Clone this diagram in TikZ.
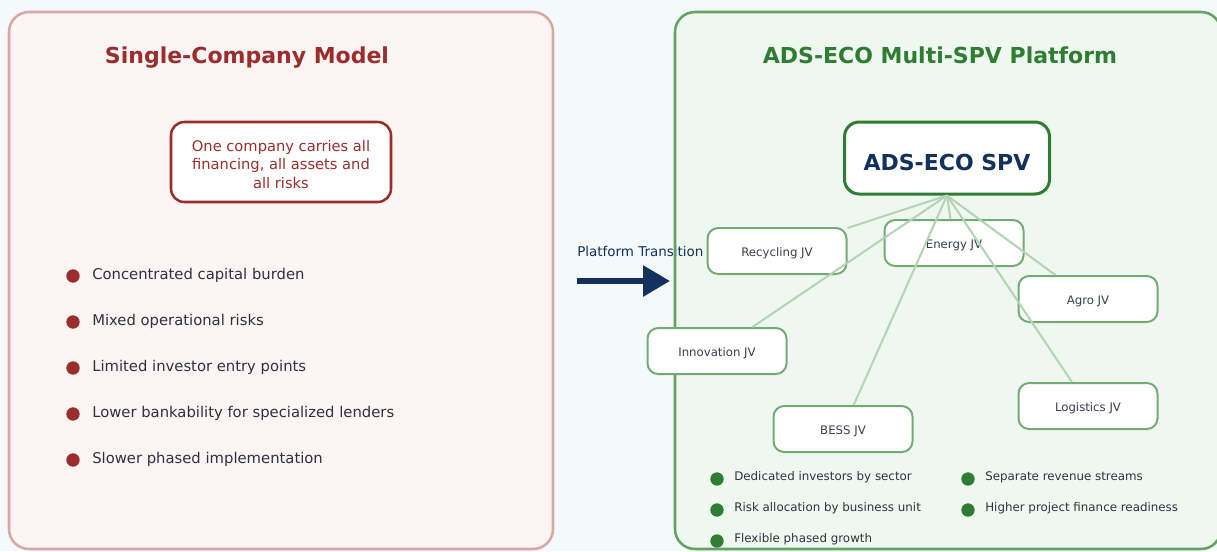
\documentclass[tikz,border=0pt]{standalone}
\usepackage{fontspec}
\setmainfont{DejaVu Sans}
\usetikzlibrary{arrows.meta}
\definecolor{bgc}{HTML}{F4F9FA}
\definecolor{lfill}{HTML}{FDF4F4}
\definecolor{lborder}{HTML}{DBA6A6}
\definecolor{redc}{HTML}{9B2D2D}
\definecolor{rfill}{HTML}{EFF8F0}
\definecolor{rborder}{HTML}{64A264}
\definecolor{greenc}{HTML}{2E7D32}
\definecolor{jvborder}{HTML}{74AB74}
\definecolor{linkc}{HTML}{B2D4B2}
\definecolor{navyc}{HTML}{13315C}
\definecolor{txtc}{HTML}{2D3340}
\definecolor{jvtxt}{HTML}{3A3F4A}
\tikzset{
  panel/.style={rounded corners=15pt, line width=1.9pt},
  strut/.style={text height=0.76em, text depth=0.24em},
  titletext/.style={strut, font=\bfseries\fontsize{16.5}{20}\selectfont},
  redbox/.style={draw=redc, line width=1.9pt, fill=white, rounded corners=10pt,
    minimum width=165pt, minimum height=60pt},
  redtext/.style={align=center, text=redc, inner sep=0pt,
    font=\fontsize{11}{13.9}\selectfont},
  spvbox/.style={draw=greenc, line width=2.25pt, fill=white, rounded corners=11pt,
    minimum width=153.75pt, minimum height=54pt, text=navyc,
    text height=18pt, text depth=0pt,
    font=\bfseries\fontsize{16.5}{20}\selectfont},
  jvbox/.style={draw=jvborder, line width=1.5pt, fill=white, rounded corners=8pt,
    minimum width=104.25pt, minimum height=34.5pt, text=jvtxt,
    text height=0.8em, text depth=0pt,
    font=\fontsize{8.8}{10}\selectfont},
  dotR/.style={circle, fill=redc, inner sep=0pt, minimum size=10pt},
  dotG/.style={circle, fill=greenc, inner sep=0pt, minimum size=10pt},
  bulletL/.style={strut, anchor=west, inner sep=0pt, text=txtc, font=\fontsize{11.1}{13}\selectfont},
  bulletR/.style={strut, anchor=west, inner sep=0pt, text=txtc, font=\fontsize{8.9}{11}\selectfont},
  link/.style={draw=linkc, line width=1.5pt}
}
\begin{document}
\begin{tikzpicture}[x=0.75pt,y=-0.75pt]
\useasboundingbox (0,0) rectangle (1217,551);
\fill[bgc] (0,0) rectangle (1217,551);

% left panel
\draw[panel, fill=lfill, draw=lborder] (9,12) rectangle (553,549);
\node[titletext, text=redc] (ltitle) at (247,60) {Single-Company Model};
\node[redbox] (one) at (281,162) {};
\node[redtext] (onetxt) at (281,164.5) {One company carries all\\financing, all assets and\\all risks};
\foreach \i/\yy/\t in {1/276/Concentrated capital burden,
                       2/322/Mixed operational risks,
                       3/368/Limited investor entry points,
                       4/414/Lower bankability for specialized lenders,
                       5/460/Slower phased implementation}{
  \node[dotR] (ld\i) at (73,\yy) {};
  \node[bulletL] (lb\i) at (92,\yy) {\t};
}

% right panel fill, transition text, right panel border
\fill[panel, rfill] (675,12) rectangle (1221,549);
\node[strut, anchor=west, inner sep=0pt, text=navyc, font=\fontsize{10.1}{12}\selectfont] (trans) at (577,253) {Platform Transition};
\draw[panel, draw=rborder] (675,12) rectangle (1221,549);
\coordinate (arrS) at (577,281);
\coordinate (arrE) at (670,281);
\draw[navyc, line width=4.5pt, -{Triangle[length=20.25pt, width=22.5pt]}] (arrS) -- (arrE);

\node[titletext, text=greenc] (rtitle) at (940,60) {ADS-ECO Multi-SPV Platform};
\node[spvbox] (spv) at (947,158) {ADS-ECO SPV};

\node[jvbox] (rec) at (777,251) {Recycling JV};
\node[jvbox] (ene) at (954,243) {Energy JV};
\node[jvbox] (agr) at (1088,299) {Agro JV};
\node[jvbox] (inn) at (717,351) {Innovation JV};
\node[jvbox] (bes) at (843,429) {BESS JV};
\node[jvbox] (log) at (1088,406) {Logistics JV};

\coordinate (hub) at (spv.south);
\foreach \n in {rec,ene,agr,inn,bes,log}{
  \draw[link] (hub) -- (\n);
}

\foreach \i/\xx/\yy/\t in {1/717/477/Dedicated investors by sector,
                           2/717/508/Risk allocation by business unit,
                           3/717/539/Flexible phased growth,
                           4/968/477/Separate revenue streams,
                           5/968/508/Higher project finance readiness}{
  \node[dotG] (rd\i) at (\xx,\yy+2) {};
  \node[bulletR] (rb\i) at (\xx+17,\yy) {\t};
}
\end{tikzpicture}
\end{document}
